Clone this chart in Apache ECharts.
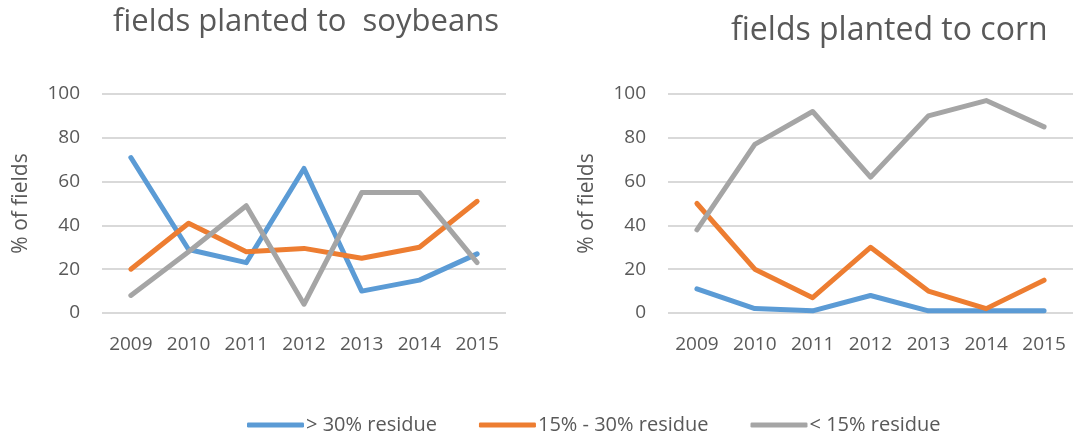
<!DOCTYPE html>
<html>
<head>
<meta charset="utf-8">
<script src="https://cdn.jsdelivr.net/npm/echarts@6/dist/echarts.min.js"></script>
<style>
  html, body { margin: 0; padding: 0; background: #ffffff; }
  #chart { width: 1073px; height: 432px; }
</style>
</head>
<body>
<div id="chart"></div>
<script>
// Survey years on both panels
const years = ['2009', '2010', '2011', '2012', '2013', '2014', '2015'];
const yTicks = [0, 20, 40, 60, 80, 100];

// Series names (residue cover classes)
const seriesNames = ['> 30% residue', '15% - 30% residue', '< 15% residue'];

// Fields planted to soybeans, % of fields
const soyHigh = [71, 29, 23, 66, 10, 15, 27];
const soyMid = [20, 41, 28, 29.5, 25, 30, 51];
const soyLow = [8, 28, 49, 4, 55, 55, 23];

// Fields planted to corn, % of fields
const cornHigh = [11, 2, 1, 8, 1, 1, 1];
const cornMid = [50, 20, 7, 30, 10, 2, 15];
const cornLow = [38, 77, 92, 62, 90, 97, 85];

const titles = ['fields planted to  soybeans', 'fields planted to corn'];
const axisName = '% of fields';

const colors = ['#5B9BD5', '#ED7D31', '#A5A5A5'];
const textColor = '#595959';
const fontFamily = '"Open Sans", "Noto Sans", sans-serif';

const chart = echarts.init(document.getElementById('chart'), null, { renderer: 'canvas' });

function xAxis(gridIndex) {
  return {
    type: 'category',
    gridIndex,
    data: years,
    boundaryGap: true,
    axisLine: { show: false },
    axisTick: { show: false },
    axisLabel: { color: textColor, fontSize: 19, fontFamily, margin: 22 }
  };
}

function yAxis(gridIndex) {
  return {
    type: 'value',
    gridIndex,
    min: yTicks[0],
    max: yTicks[yTicks.length - 1],
    interval: yTicks[1] - yTicks[0],
    name: axisName,
    nameLocation: 'middle',
    nameGap: 70,
    nameRotate: 90,
    nameTextStyle: { color: textColor, fontSize: 21, fontFamily },
    axisLine: { show: false },
    axisTick: { show: false },
    axisLabel: { color: textColor, fontSize: 19, fontFamily, margin: 22 },
    splitLine: { lineStyle: { color: '#D9D9D9', width: 2 } }
  };
}

function line(name, data, idx, color) {
  return {
    name,
    type: 'line',
    xAxisIndex: idx,
    yAxisIndex: idx,
    data,
    showSymbol: false,
    symbol: 'none',
    color,
    lineStyle: { width: 5, color, cap: 'round', join: 'round' },
    emphasis: { disabled: true },
    animation: false
  };
}

chart.setOption({
  backgroundColor: '#ffffff',
  textStyle: { fontFamily },
  title: [
    { text: titles[0], left: 108, top: 2,
      textStyle: { color: textColor, fontSize: 31, fontWeight: 'normal', fontFamily } },
    { text: titles[1], left: 726, top: 10,
      textStyle: { color: textColor, fontSize: 32, fontWeight: 'normal', fontFamily } }
  ],
  legend: {
    left: 242,
    top: 410,
    itemWidth: 57,
    itemHeight: 5,
    itemGap: 42,
    icon: 'roundRect',
    textStyle: { color: textColor, fontSize: 20, fontFamily, padding: [0, 0, 0, -3] },
    data: seriesNames.map((n, i) => ({ name: n, itemStyle: { color: colors[i] } }))
  },
  grid: [
    { left: 102, top: 94, width: 404, height: 219 },
    { left: 668, top: 94, width: 405, height: 219 }
  ],
  xAxis: [xAxis(0), xAxis(1)],
  yAxis: [yAxis(0), yAxis(1)],
  series: [
    line(seriesNames[0], soyHigh, 0, colors[0]),
    line(seriesNames[1], soyMid, 0, colors[1]),
    line(seriesNames[2], soyLow, 0, colors[2]),
    line(seriesNames[0], cornHigh, 1, colors[0]),
    line(seriesNames[1], cornMid, 1, colors[1]),
    line(seriesNames[2], cornLow, 1, colors[2])
  ]
});
</script>
</body>
</html>
